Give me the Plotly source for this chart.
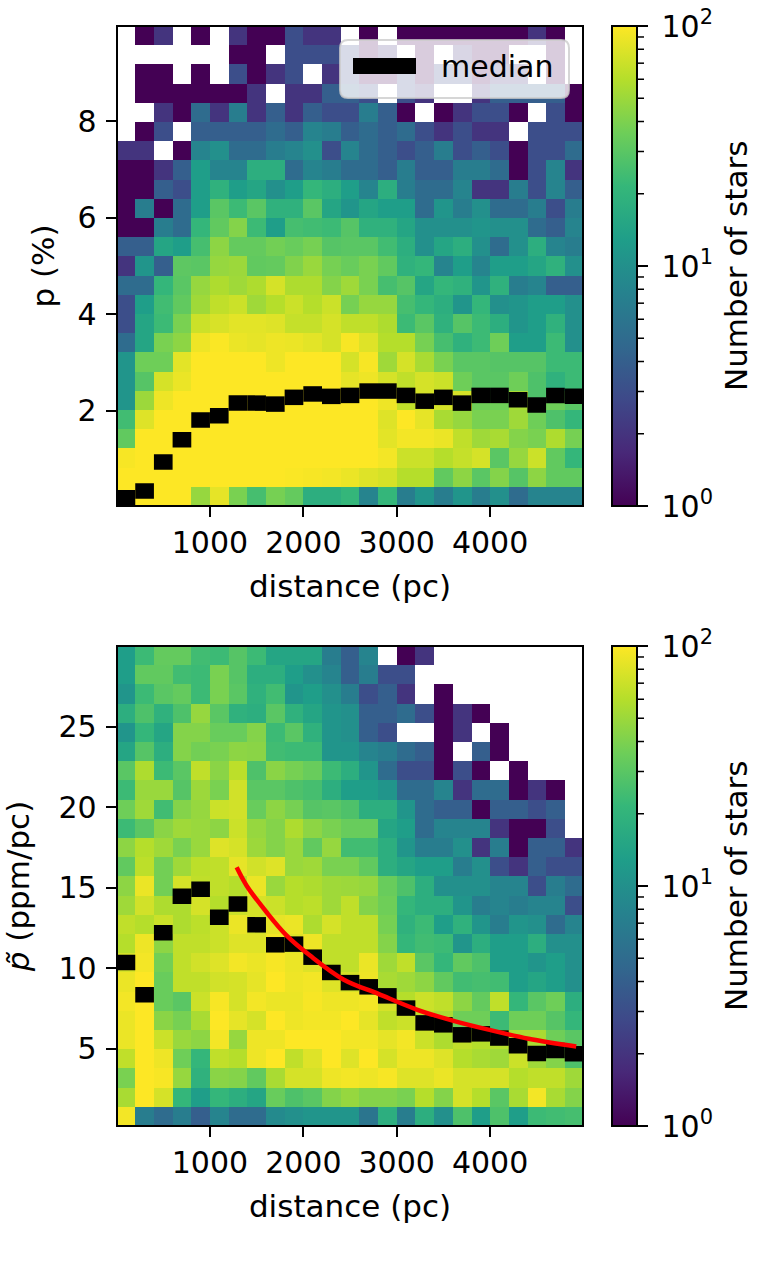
import numpy as np
import plotly.graph_objects as go

W, H = 778, 1265
N = None

# counts per bin, rows listed from the top of each panel down
P_COUNTS = [
    [N,1,2,N,1,N,2,1,1,3,2,2,N,1,N,1,1,1,1,1,1,1,2,1,N],
    [N,N,N,N,N,N,1,1,N,3,3,3,3,1,2,N,1,N,2,1,1,N,N,1,N],
    [N,1,1,N,1,N,3,1,2,3,N,2,3,1,1,3,1,3,3,1,2,2,N,1,N],
    [N,1,1,1,1,1,1,2,N,2,2,4,4,3,N,3,2,N,N,2,4,4,4,4,1],
    [N,N,2,1,5,2,7,2,4,2,4,3,3,7,4,1,N,1,2,3,3,1,N,3,1],
    [N,1,3,N,4,4,4,4,5,4,8,7,4,5,4,5,3,2,3,2,2,N,3,3,3],
    [2,2,N,1,8,10,5,5,7,8,10,3,8,5,4,3,4,7,3,4,3,1,3,3,5],
    [1,1,2,4,13,8,8,18,18,5,8,7,5,5,4,7,4,4,7,7,5,1,3,8,2],
    [1,1,4,3,13,19,13,15,10,13,21,18,13,8,18,7,5,5,8,2,2,7,3,8,4],
    [1,7,1,5,13,30,23,30,19,19,30,15,11,15,13,13,5,11,7,10,5,5,7,3,7],
    [1,1,7,5,21,32,42,23,13,25,24,23,29,19,19,15,10,10,10,11,10,10,5,4,8],
    [4,4,15,13,25,45,33,33,37,34,38,29,30,30,24,18,10,15,18,10,5,10,18,8,7],
    [2,11,4,31,30,48,50,32,33,41,49,38,34,39,32,19,21,8,13,8,13,13,15,19,10],
    [5,5,21,30,48,57,51,57,75,57,57,42,51,39,25,29,15,21,19,11,19,7,8,4,4],
    [3,13,24,32,51,65,70,51,60,70,60,70,38,48,48,25,21,18,11,21,10,11,13,13,10],
    [3,15,23,39,70,77,83,83,80,67,67,75,65,65,57,23,30,19,29,23,18,11,13,19,10],
    [5,15,39,45,90,98,88,85,90,88,83,75,96,80,60,60,38,25,19,23,36,13,13,23,10],
    [11,36,36,83,100,100,100,100,90,100,100,100,75,96,51,75,55,39,30,30,29,29,29,23,23],
    [11,29,75,88,100,100,100,100,100,100,100,100,85,90,75,65,75,70,36,30,30,36,27,19,23],
    [11,50,90,100,100,100,100,100,100,100,100,100,100,100,90,65,75,75,75,36,36,55,27,36,30],
    [24,80,100,100,100,100,100,100,100,100,100,100,100,100,80,100,85,55,48,39,39,51,36,27,21],
    [32,100,100,100,100,100,100,100,100,100,100,100,100,100,83,93,93,88,65,51,55,42,39,57,38],
    [96,100,100,100,100,100,100,100,100,100,100,100,100,100,93,70,70,60,67,75,30,48,70,32,21],
    [100,100,100,100,100,100,100,100,100,98,96,93,88,80,75,60,60,32,45,30,42,29,45,32,32],
    [100,100,100,100,48,85,39,25,38,33,18,18,21,8,21,7,11,7,11,7,10,5,8,8,8],
]

PTILDE_COUNTS = [
    [13,23,33,33,24,23,29,23,15,15,15,7,4,8,N,1,2,N,N,N,N,N,N,N,N],
    [13,32,32,24,23,39,29,18,18,13,10,8,4,7,3,3,N,N,N,N,N,N,N,N,N],
    [11,23,30,33,23,39,30,19,24,11,13,10,7,3,4,2,N,1,N,N,N,N,N,N,N],
    [18,27,19,27,48,30,19,18,30,19,15,11,10,4,4,5,3,1,2,1,N,N,N,N,N],
    [11,21,15,42,42,34,34,42,23,30,19,11,10,4,3,N,N,1,2,N,1,N,N,N,N],
    [15,29,18,42,37,39,45,44,24,23,23,11,11,8,7,5,4,1,N,4,1,N,N,N,N],
    [30,57,23,30,65,44,63,27,44,38,34,23,18,11,5,3,3,1,3,1,N,1,N,N,N],
    [23,49,49,29,50,39,73,30,30,27,25,18,13,13,11,5,5,8,2,5,5,1,2,1,N],
    [36,51,24,42,48,70,73,34,45,38,29,30,27,18,18,11,5,4,4,1,4,4,3,4,N],
    [23,30,44,51,49,45,70,48,42,57,45,39,34,34,15,13,5,8,8,8,2,1,1,3,N],
    [45,60,51,39,49,80,75,50,42,49,32,48,24,24,18,11,7,7,10,2,7,1,4,4,2],
    [32,63,37,51,63,65,85,73,80,49,51,39,39,32,18,15,13,13,7,10,3,2,4,3,3],
    [45,88,37,75,65,65,60,88,49,60,57,51,50,48,34,27,18,10,10,10,8,8,3,7,5],
    [51,73,57,57,75,60,70,75,70,60,63,51,65,42,36,21,18,18,11,7,8,7,8,8,3],
    [65,60,70,57,63,70,88,75,85,88,57,75,65,65,38,19,23,13,19,11,7,11,10,5,8],
    [60,90,45,65,65,70,80,80,93,80,90,65,65,65,42,21,24,23,11,18,13,13,18,10,10],
    [75,93,37,65,73,80,93,88,96,88,80,65,65,88,51,65,30,21,32,27,13,13,11,13,10],
    [88,100,34,65,65,73,75,85,100,90,93,80,75,90,55,51,45,32,24,25,24,13,15,13,10],
    [93,100,34,30,70,96,75,93,88,88,96,90,90,93,75,60,70,65,45,33,65,21,30,36,18],
    [88,100,44,38,55,100,85,75,100,90,93,93,100,85,65,70,65,55,36,36,23,36,36,29,21],
    [88,100,70,49,45,93,48,90,90,100,100,100,93,93,85,93,70,57,65,60,60,55,55,36,30],
    [65,100,90,36,21,65,60,90,100,65,80,100,80,100,75,90,90,80,60,55,51,70,51,42,27],
    [39,100,96,48,19,44,42,32,55,75,75,90,93,90,96,80,80,88,75,75,75,60,65,65,51],
    [55,100,75,21,13,21,18,15,34,27,30,42,48,42,42,39,60,42,75,60,30,55,93,55,42],
    [93,7,5,7,4,8,5,5,9,10,11,11,11,6,18,7,18,10,27,13,27,13,23,24,25],
]

DIST_CENTRES = [100, 300, 500, 700, 900, 1100, 1300, 1500, 1700, 1900, 2100, 2300, 2500,
                2700, 2900, 3100, 3300, 3500, 3700, 3900, 4100, 4300, 4500, 4700, 4900]
P_MEDIAN = [0.20, 0.34, 0.94, 1.40, 1.81, 1.90, 2.16, 2.16, 2.14, 2.28, 2.35, 2.30, 2.32,
            2.41, 2.41, 2.32, 2.20, 2.28, 2.16, 2.32, 2.32, 2.23, 2.12, 2.32, 2.30]
PTILDE_MEDIAN = [10.35, 8.34, 12.2, 14.47, 14.9, 13.16, 13.99, 12.69, 11.45, 11.49, 10.68, 9.73, 9.1,
                 8.84, 8.28, 7.52, 6.6, 6.48, 5.86, 5.92, 5.66, 5.18, 4.7, 4.89, 4.68]

FIT_X = [1286, 1393, 1607, 1822, 2072, 2429, 2804, 3215, 3590, 3983, 4412, 4923]
FIT_Y = [16.26, 15.12, 13.47, 12.02, 10.78, 9.3, 8.4, 7.43, 6.76, 6.18, 5.62, 5.14]

# bin extents, and the slightly tighter view that leaves room for the spine
P_BINS = [0.03, 9.97]
PTILDE_BINS = [0.2, 30.0]
X_VIEW = [12, 4988]
P_VIEW = [0.05, 9.95]
PTILDE_VIEW = [0.26, 29.94]
BIN_HALF = 100

FONT = "DejaVu Sans"
TICK_SIZE = 30
TITLE_SIZE = 31
LINE_W = 2


def px_x(v):
    return v / W


def px_y(v):
    return 1 - v / H


def log_grid(rows):
    # heatmap goes bottom-up, and the colour scale is log10(count)
    return [[None if c is None else float(np.log10(c)) for c in row] for row in rows[::-1]]


def add_panel(fig, n, counts, bins, view, median, top, bottom, y_title, y_ticks, y_standoff):
    xa = f"x{n}" if n > 1 else "x"
    ya = f"y{n}" if n > 1 else "y"
    dy = (bins[1] - bins[0]) / len(counts)
    fig.add_trace(go.Heatmap(
        z=log_grid(counts), x0=BIN_HALF, dx=2 * BIN_HALF,
        y0=bins[0] + dy / 2, dy=dy,
        xaxis=xa, yaxis=ya,
        colorscale="Viridis", zmin=0, zmax=2,
        hoverongaps=False,
        colorbar=dict(
            x=px_x(612), xanchor="left", xpad=0, ypad=0,
            y=px_y(bottom), yanchor="bottom",
            lenmode="fraction", len=(bottom - top) / H,
            thickness=25, thicknessmode="pixels",
            outlinecolor="black", outlinewidth=LINE_W,
            tickmode="array", tickvals=[0, 1, 2],
            ticktext=["10<sup>0</sup>", "10<sup>1</sup>", "10<sup>2</sup>"],
            # long see-through ticks push the labels out, real ticks are shapes below
            ticks="outside", ticklen=18, tickwidth=LINE_W, tickcolor="rgba(0,0,0,0)",
            tickfont=dict(family=FONT, size=TICK_SIZE, color="black"),
        ),
    ))
    # median drawn as a thick horizontal bar across each bin
    fig.add_trace(go.Scatter(
        x=DIST_CENTRES, y=median, mode="markers", xaxis=xa, yaxis=ya,
        marker=dict(size=1, color="black"),
        error_x=dict(type="constant", value=BIN_HALF, thickness=15.5, width=0, color="black"),
        showlegend=False,
    ))
    axis_style = dict(
        showgrid=False, zeroline=False, showline=True, mirror=True,
        linecolor="black", linewidth=LINE_W,
        ticks="outside", ticklen=10, tickwidth=LINE_W, tickcolor="black",
        tickfont=dict(family=FONT, size=TICK_SIZE, color="black"),
    )
    fig.update_layout({
        f"xaxis{n if n > 1 else ''}": dict(
            domain=[px_x(117.7), px_x(582.3)], range=X_VIEW, anchor=ya,
            tickvals=[1000, 2000, 3000, 4000],
            title=dict(text="distance (pc)", standoff=16,
                       font=dict(family=FONT, size=TITLE_SIZE, color="black")),
            **axis_style),
        f"yaxis{n if n > 1 else ''}": dict(
            domain=[px_y(bottom - 1), px_y(top + 1)], range=view, anchor=xa,
            tickvals=y_ticks, ticklabelstandoff=3,
            title=dict(text=y_title, standoff=y_standoff,
                       font=dict(family=FONT, size=TITLE_SIZE, color="black")),
            **axis_style),
    })
    # colour bar ticks, majors and log minors
    for decade in (0, 1, 2):
        for m in range(1, 10):
            if decade == 2 and m > 1:
                break
            yy = bottom - (decade + np.log10(m)) / 2 * (bottom - top)
            tick_len = 11 if m == 1 else 7
            fig.add_shape(type="line", xref="paper", yref="paper",
                          x0=px_x(637), x1=px_x(637 + tick_len), y0=px_y(yy), y1=px_y(yy),
                          line=dict(color="black", width=LINE_W if m == 1 else 1.5))
    fig.add_annotation(text="Number of stars", xref="paper", yref="paper",
                       x=px_x(736), y=px_y((top + bottom) / 2), textangle=-90,
                       xanchor="center", yanchor="middle", showarrow=False,
                       font=dict(family=FONT, size=TITLE_SIZE, color="black"))


fig = go.Figure()
add_panel(fig, 1, P_COUNTS, P_BINS, P_VIEW, P_MEDIAN, 26, 506, "p (%)", [2, 4, 6, 8], 14)
add_panel(fig, 2, PTILDE_COUNTS, PTILDE_BINS, PTILDE_VIEW, PTILDE_MEDIAN, 646, 1126,
          "<i>p̃</i> (ppm/pc)", [5, 10, 15, 20, 25], 20)

fig.add_trace(go.Scatter(
    x=FIT_X, y=FIT_Y, mode="lines", xaxis="x2", yaxis="y2",
    line=dict(color="red", width=4.5, shape="spline"), showlegend=False,
))

# legend box, drawn by hand because the key is a wide thick bar
lx0, lx1, ly0, ly1, r = 340, 569, 40, 98, 8
box = (f"M {px_x(lx0 + r)} {px_y(ly0)} L {px_x(lx1 - r)} {px_y(ly0)} "
       f"Q {px_x(lx1)} {px_y(ly0)} {px_x(lx1)} {px_y(ly0 + r)} "
       f"L {px_x(lx1)} {px_y(ly1 - r)} Q {px_x(lx1)} {px_y(ly1)} {px_x(lx1 - r)} {px_y(ly1)} "
       f"L {px_x(lx0 + r)} {px_y(ly1)} Q {px_x(lx0)} {px_y(ly1)} {px_x(lx0)} {px_y(ly1 - r)} "
       f"L {px_x(lx0)} {px_y(ly0 + r)} Q {px_x(lx0)} {px_y(ly0)} {px_x(lx0 + r)} {px_y(ly0)} Z")
fig.add_shape(type="path", path=box, xref="paper", yref="paper",
              fillcolor="rgba(255,255,255,0.8)", line=dict(color="rgba(204,204,204,0.8)", width=2))
fig.add_shape(type="rect", xref="paper", yref="paper",
              x0=px_x(353), x1=px_x(416), y0=px_y(74), y1=px_y(58),
              fillcolor="black", line=dict(width=0))
fig.add_annotation(text="median", xref="paper", yref="paper",
                   x=px_x(439), y=px_y(66), xanchor="left", yanchor="middle", showarrow=False,
                   font=dict(family=FONT, size=TICK_SIZE, color="black"))

fig.update_layout(
    width=W, height=H,
    margin=dict(l=0, r=0, t=0, b=0),
    paper_bgcolor="white", plot_bgcolor="white",
    showlegend=False,
    font=dict(family=FONT, size=TICK_SIZE, color="black"),
)

fig.write_html("out.html", config={"displayModeBar": False},
               post_script="document.body.style.margin='0';")
